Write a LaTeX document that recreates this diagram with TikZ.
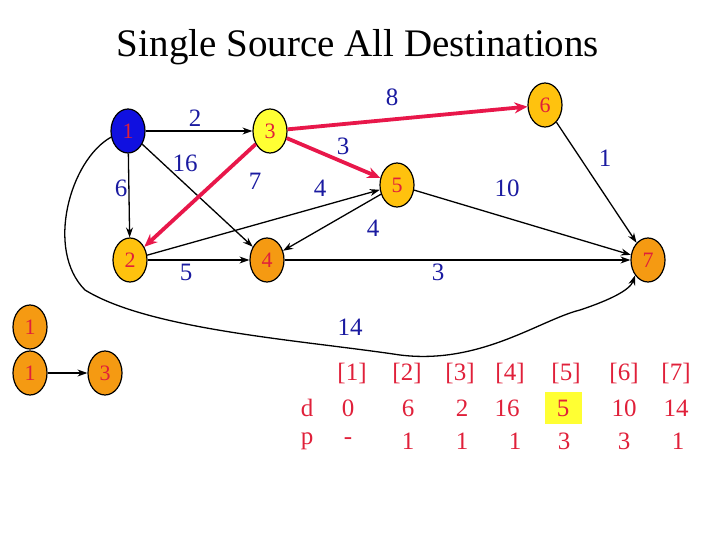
\documentclass[tikz,border=0pt]{standalone}
\usepackage{fontspec}
\setmainfont{Liberation Serif}
\usetikzlibrary{arrows.meta,shapes.geometric}
\definecolor{nblue}{HTML}{1A1AA0}
\definecolor{nred}{HTML}{E0203A}
\definecolor{ored}{HTML}{E8174A}
\definecolor{lo}{HTML}{FFC20E}
\definecolor{do}{HTML}{F59A12}
\definecolor{yl}{HTML}{FFFF33}
\definecolor{bl}{HTML}{1010E0}
\begin{document}
\begin{tikzpicture}[x=1pt,y=-1pt,
  vx/.style={draw=black,line width=1.2pt,ellipse,minimum width=34pt,minimum height=44pt,inner sep=0pt,text=nred,font=\fontsize{22}{22}\selectfont},
  lab/.style={text=nblue,font=\fontsize{25}{25}\selectfont,inner sep=0pt},
  red/.style={text=nred,font=\fontsize{25}{25}\selectfont,inner sep=0pt},
  ed/.style={-{Stealth[length=10pt,width=7pt]},line width=1.3pt},
  hed/.style={-{Stealth[length=13pt,width=11pt]},line width=3.8pt,ored}]
\useasboundingbox (0,0) rectangle (720,540);
\node[font=\fontsize{39}{39}\selectfont] (title) at (358,47) {Single Source All Destinations};
\node[vx,fill=bl] (n1) at (128,131) {1};
\node[vx,fill=yl] (n3) at (270,131) {3};
\node[vx,fill=lo] (n6) at (545,105) {6};
\node[vx,fill=lo] (n5) at (397,185) {5};
\node[vx,fill=lo] (n2) at (130,260) {2};
\node[vx,fill=do] (n4) at (267,260) {4};
\node[vx,fill=do] (n7) at (648,260) {7};
\draw[ed] (n1) -- (n3);
\draw[ed] (n1) -- (n2);
\draw[ed] (n1) -- (n4);
\draw[ed] (n2) -- (n4);
\draw[ed] (n2) -- (n5);
\draw[ed] (n5) -- (n4);
\draw[ed] (n5) -- (n7);
\draw[ed] (n6) -- (n7);
\draw[ed] (n4) -- (n7);
\draw[hed] (n3) -- (n6);
\draw[hed] (n3) -- (n5);
\draw[hed] (n3) -- (n2);
\draw[ed] (n1.200) .. controls (70,160) and (45,250) .. (85,290)
  .. controls (150,330) and (300,340) .. (400,355)
  .. controls (480,365) and (540,320) .. (580,310)
  .. controls (610,300) and (630,290) .. (n7.230);
\node[lab] (l2) at (195,118) {2};
\node[lab] (l16) at (185,163) {16};
\node[lab] (l6) at (121,188) {6};
\node[lab] (l7) at (255,181) {7};
\node[lab] (l3a) at (343,146) {3};
\node[lab] (l4a) at (320,188) {4};
\node[lab] (l8) at (392,97) {8};
\node[lab] (l1) at (605,158) {1};
\node[lab] (l10) at (507,188) {10};
\node[lab] (l4b) at (373,228) {4};
\node[lab] (l5) at (186,272) {5};
\node[lab] (l3b) at (438,272) {3};
\node[lab] (l14) at (350,327) {14};
\node[vx,fill=do] (a1) at (30,327) {1};
\node[vx,fill=do] (b1) at (30,373) {1};
\node[vx,fill=do] (b3) at (105,373) {3};
\draw[ed] (b1) -- (b3);
\fill[yl] (545,392) rectangle (582,424);
\foreach \i/\x in {1/352,2/407,3/460,4/510,5/566,6/624,7/676}
  \node[red] (h\i) at (\x,373) {[\i]};
\node[red] (dl) at (307,408) {d};
\node[red] (pl) at (307,441) {p};
\foreach \v/\x/\n in {0/348/1,6/408/2,2/462/3,16/507/4,5/563/5,10/624/6,14/676/7}
  \node[red] (d\n) at (\x,408) {\v};
\foreach \v/\x/\n in {-/348/1,1/408/2,1/462/3,1/515/4,3/564/5,3/624/6,1/678/7}
  \node[red] (p\n) at (\x,441) {\v};
\end{tikzpicture}
\end{document}
